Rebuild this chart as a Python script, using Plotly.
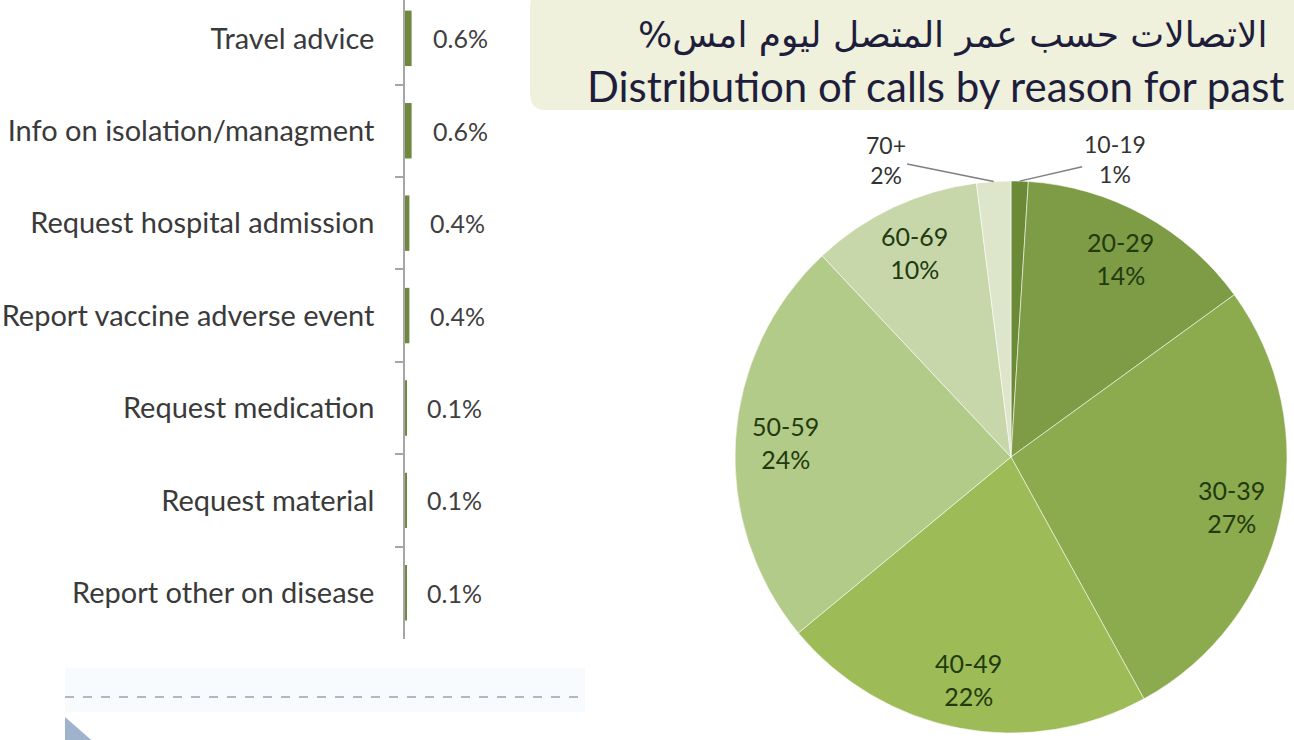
import math
import plotly.graph_objects as go

# ---- data -------------------------------------------------------------
reasons = [
    "Travel advice",
    "Info on isolation/managment",
    "Request hospital admission",
    "Report vaccine adverse event",
    "Request medication",
    "Request material",
    "Report other on disease",
]
reason_pct = [0.6, 0.6, 0.4, 0.4, 0.1, 0.1, 0.1]

age_groups = ["10-19", "20-29", "30-39", "40-49", "50-59", "60-69", "70+"]
age_pct = [1, 14, 27, 22, 24, 10, 2]
age_colors = ["#6b8a36", "#7d9c45", "#8cab4f", "#9dbb56", "#b3cb88", "#c7d7aa", "#dde6cb"]

title_ar = "الاتصالات حسب عمر المتصل ليوم امس%"
title_en = "Distribution of calls by reason for past"

# ---- canvas geometry -------------------------------------------------
W, H = 1294, 740
PIE_CX, PIE_CY, PIE_R = 1011, 457, 276
AXIS_X, BAR_RIGHT = 405, 515
BAR_BOTTOM = 639


def px(x):
    return x / W


def py(y):
    return 1 - y / H


fig = go.Figure()

# horizontal bars: call reasons
fig.add_trace(go.Bar(
    x=reason_pct,
    y=reasons,
    orientation="h",
    width=0.6,
    marker=dict(color="#6f873f", line=dict(width=0)),
    hoverinfo="x+y",
    showlegend=False,
    xaxis="x",
    yaxis="y",
))

# pie: caller age groups
fig.add_trace(go.Pie(
    labels=age_groups,
    values=age_pct,
    sort=False,
    direction="clockwise",
    rotation=0,
    marker=dict(colors=age_colors, line=dict(color="rgba(255,255,255,0.55)", width=1)),
    textinfo="none",
    showlegend=False,
    domain=dict(x=[px(PIE_CX - PIE_R), px(PIE_CX + PIE_R)],
                y=[py(PIE_CY + PIE_R), py(PIE_CY - PIE_R)]),
))

annotations = []

# value labels beside the bars
for r, v in zip(reasons, reason_pct):
    annotations.append(dict(
        x=v, y=r, xref="x", yref="y", text=f"{v:.1f}%",
        showarrow=False, xanchor="left", xshift=19,
        font=dict(family="Lato", size=25, color="#3f3f3f"),
    ))

# pie slice labels
total = sum(age_pct)
outside_offsets = {"10-19": (95, -22), "70+": (-108, -22)}
cum = 0
for lab, v in zip(age_groups, age_pct):
    mid = math.radians((cum + v / 2) / total * 360)
    cum += v
    text = f"{lab}<br>{v}%"
    if lab in outside_offsets:
        hx = PIE_CX + PIE_R * math.sin(mid)
        hy = PIE_CY - PIE_R * math.cos(mid)
        ax, ay = outside_offsets[lab]
        annotations.append(dict(
            x=px(hx), y=py(hy), xref="paper", yref="paper", text=text,
            showarrow=True, arrowhead=0, arrowwidth=1.5, arrowcolor="#7f7f7f",
            ax=ax, ay=ay, axref="pixel", ayref="pixel",
            font=dict(family="Lato", size=23, color="#333333"),
        ))
    else:
        tx = PIE_CX + 0.82 * PIE_R * math.sin(mid)
        ty = PIE_CY - 0.82 * PIE_R * math.cos(mid)
        annotations.append(dict(
            x=px(tx), y=py(ty), xref="paper", yref="paper", text=text,
            showarrow=False, xanchor="center", yanchor="middle",
            font=dict(family="Lato", size=25, color="#223a0e"),
        ))

# title block
annotations.append(dict(
    x=px(636), y=py(35), xref="paper", yref="paper", text=title_ar + "\u200f",
    showarrow=False, xanchor="left", yanchor="middle",
    font=dict(family="DejaVu Sans", size=36, color="#1e1e3c"),
))
annotations.append(dict(
    x=px(585), y=py(86), xref="paper", yref="paper", text=title_en,
    showarrow=False, xanchor="left", yanchor="middle",
    font=dict(family="Lato", size=42, color="#1e1e3c"),
))

shapes = [
    # title box with rounded left corners
    dict(type="path", xref="paper", yref="paper", layer="below",
         path=(f"M {px(545)} {py(-10)} L {px(1310)} {py(-10)} L {px(1310)} {py(110)} "
               f"L {px(545)} {py(110)} Q {px(530)} {py(110)} {px(530)} {py(93)} "
               f"L {px(530)} {py(8)} Q {px(530)} {py(-10)} {px(545)} {py(-10)} Z"),
         fillcolor="#eff1dc", line=dict(width=0)),
    # light band and dashed divider below the bars
    dict(type="rect", xref="paper", yref="paper", layer="below",
         x0=px(65), x1=px(585), y0=py(712), y1=py(668),
         fillcolor="#f8fbfd", line=dict(width=0)),
    dict(type="line", xref="paper", yref="paper",
         x0=px(65), x1=px(585), y0=py(697), y1=py(697),
         line=dict(color="#9aa3ab", width=1.5, dash="dash")),
    # corner marker
    dict(type="path", xref="paper", yref="paper",
         path=f"M {px(65)} {py(717)} L {px(65)} {py(745)} L {px(97)} {py(745)} Z",
         fillcolor="#9fb3cc", line=dict(width=0)),
]

# y range so that each category band is ~92 px and the top band is partly cut
n = len(reasons)

fig.update_layout(
    width=W, height=H,
    margin=dict(l=0, r=0, t=0, b=0),
    paper_bgcolor="#ffffff",
    plot_bgcolor="rgba(0,0,0,0)",
    showlegend=False,
    xaxis=dict(domain=[px(AXIS_X), px(BAR_RIGHT)], range=[0, 10],
               visible=False, fixedrange=True),
    yaxis=dict(domain=[py(BAR_BOTTOM), 1], range=[n - 0.5, -0.415],
               type="category", categoryorder="array", categoryarray=reasons,
               showline=True, linecolor="#a6a6a6", linewidth=1.5,
               ticks="outside", tickson="boundaries", ticklen=8,
               tickcolor="#a6a6a6", tickwidth=1.5, showgrid=False,
               ticklabelstandoff=23,
               tickfont=dict(family="Lato", size=29, color="#3a3a3a")),
    annotations=annotations,
    shapes=shapes,
)

fig.write_html("out.html")
